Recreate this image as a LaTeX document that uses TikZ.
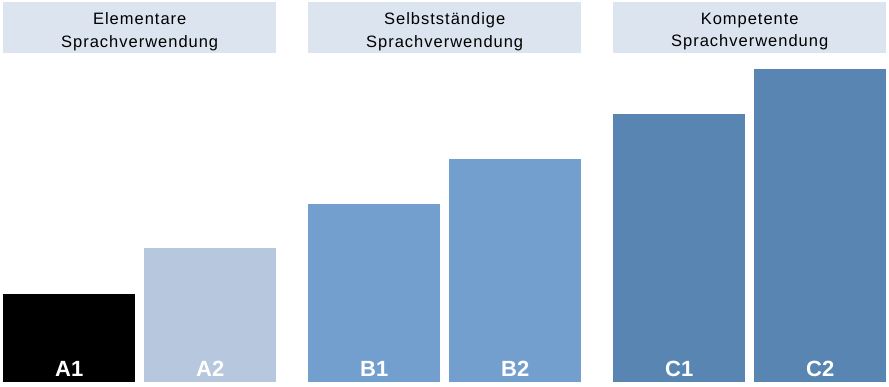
\documentclass[tikz,border=0pt]{standalone}
\usepackage{fontspec}
\setmainfont{Liberation Sans}
\newfontfamily\headfont{Liberation Sans}[LetterSpace=6]
\usetikzlibrary{positioning}

\definecolor{headbg}{HTML}{DCE4EF}
\definecolor{levelA}{HTML}{B7C8DE}
\definecolor{levelB}{HTML}{739FCF}
\definecolor{levelC}{HTML}{5985B3}

\begin{document}
\begin{tikzpicture}[x=1pt,y=1pt,
              bar/.style={rectangle, inner sep=0pt, minimum width=132pt, anchor=south west},
              barlabel/.style={anchor=base, text=white, font=\fontsize{22}{24}\selectfont\bfseries},
              header/.style={rectangle, fill=headbg, inner sep=0pt, minimum width=273pt,
                             minimum height=51pt, anchor=north west},
              headtext/.style={align=center, inner sep=0pt,
                             font=\headfont\fontsize{16.5}{22.5}\selectfont}]
              \useasboundingbox (0,0) rectangle (889,386);
              % headers
              \node[header] (HA) at (3,384) {};
              \node[header] (HB) at (308,384) {};
              \node[header] (HC) at (613,384) {};
              \node[headtext] (TA) at ([yshift=-4pt]HA.center) {Elementare\\Sprachverwendung};
              \node[headtext] (TB) at ([yshift=-4pt]HB.center) {Selbstständige\\Sprachverwendung};
              \node[headtext] (TC) at ([yshift=-4pt]HC.center) {Kompetente\\Sprachverwendung};
              % bars
              \node[bar, fill=black, minimum height=88pt] (A1) at (3,4) {};
              \node[bar, fill=levelA, minimum height=134pt] (A2) at (144,4) {};
              \node[bar, fill=levelB, minimum height=178pt] (B1) at (308,4) {};
              \node[bar, fill=levelB, minimum height=223pt] (B2) at (449,4) {};
              \node[bar, fill=levelC, minimum height=268pt] (C1) at (613,4) {};
              \node[bar, fill=levelC, minimum height=313pt] (C2) at (754,4) {};
              % labels
              \foreach \lvl in {A1,A2,B1,B2,C1,C2}
                \node[barlabel] (L\lvl) at ([yshift=6pt]\lvl.south) {\lvl};
            \end{tikzpicture}
\end{document}
